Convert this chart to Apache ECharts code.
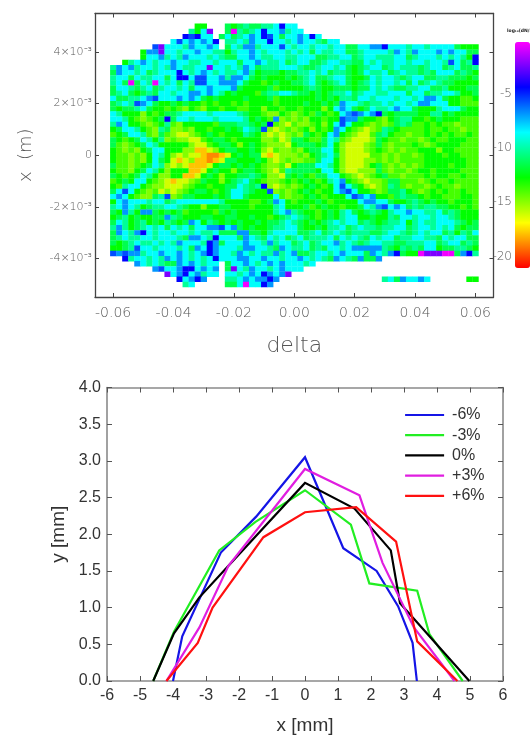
<!DOCTYPE html>
<html><head><meta charset="utf-8">
<script src="https://cdn.jsdelivr.net/npm/echarts@6/dist/echarts.min.js"></script>
<style>html,body{margin:0;padding:0;background:#fff}#c{width:530px;height:736px}</style>
</head><body><div id="c"></div>
<script>
// ---- top panel: log-level map ----
const levelValues = {m:-0.6,p:-2.5,B:-4.6,b:-5.8,a:-7,c:-8.8,t:-10.4,s:-11.6,g:-12.9,l:-14,h:-15,y:-16.3,o:-18,r:-19};
const deltaStart = -0.06, deltaStep = 0.002, rowTop = 25, rowStep = 0.0002;
const mapRows = [
".......... ....gg...s gstssttcBc c......... .......... .......... .",
".......... ...tgcp..s mtstcBccat cc........ .......... .......... .",
".......... ..BbBcc.sc stcacBbcsc cacBc..... .......... .......... .",
".......... cbcacacB.t tctaccBcct cacctscc.. .......... .......... .",
".......bpc cctaccac.s ctaatcccbc tcctcctccs sccaaBccct cctccccsgg g",
".....gaapc ctccaccttg tccactccct ctcscttccs stcccctact acccacaccs s",
".....gccat ctaccctcts sccacttcct tcccssttcc stcctttccs tccctctctg B",
"..gtcactcc accttcctcc csccacttcs tccsstcctt ssctcttcct cctcctbcst B",
"tacatcctct acttccpcct ctacstttcc ctsstcctcs gstccstctt tstccstcss t",
"sacctcstcc cBctcactct tcatgsssgs sttctcstts gscttcstct tstscccsts g",
"tccscttccs cBBcbbccat aacsgsgggs gstcsstccs ggsctcctst ccssttsssg s",
"tcsmsctmct csctbbccaa acsgglgsgg sstcsgstcs gstctcctcs cstctssggg g",
"scctstcstc ctcsccaccc asggggslgg ggstsggsss gssctctsst tccsstgggs s",
"stcsgstscc tccaacactg sggglsttcc tssgsgsttc stccttcccs ccsttcctgg s",
"cssttcabcc cacacsgsgg ggsgggslgg ggggsgsgtt scctccctcc tcaacsggll g",
"stctbacsgg sgsgglglgg lglgggglgg ggsggsgsac ctsttctcct caacccggll l",
"sgsstcsggl glhglhgglg gllgghgglg glggghgcac sgscttcacc sgggtcccsg g",
"ctggghglgs stcccctccc ctsgglhhgl hlglsglgca bacaBsgsss sggttgsggg g",
"cctglhlgsB scctccctcc cctgsglahl hlhgglggba asgglhgstt gglgsgggll l",
"tacgglhlgt lhggggglss sttsgsBlhy lhhlghgcbc gglhlhlsts llglgllhll l",
"gscctglhts hhlhgglggs gsctsbhyhl hlghglgacg lhyhltsgll llgllgllhl l",
"lgscctlhsl hyyhlgsglg ggtsghyhyh lhsglgcagl hyylstgllh llglglgllg l",
"sglgsctgth lhhyylgssg lgggghhlyh ssgllsctlh yyyhsgllhl lhlgllgggl l",
"slhlgsctgg ggghyylgss ghgsglhhhy gsssgscghy yyhlslhlll glhlggggll l",
"glhlhgsccg gghhooyhgs sggsghylhh lhgssccghy yyhlglhlhl lggghgglll l",
"gllhlhgctg hyhyyorroy gsgssyoyhh hlhgstcshy yyyllhlhll hlggglggll l",
"gllhlhgcsg yoyhooroys sgggsghyhl hhllsccghy yyhhlhlhll llgggggggl l",
"sllhlgscth yhyoooygss gsgsglhhly gssscctghy yyhgslhlhl hlgggglggl l",
"gllhgsctgh gggooygsgg hgssglhylt ssssgccghy yhhhslhllh lgglggggll l",
"sglgsctghh ggooygsghg gsstsghhys gsglssccgl hyhlgsllhl llglggllgl l",
"lgsgccglhy oyyhlsgghg stcsglhhlg lgsglgtcag lhyhhlssll lhlgllglll l",
"gltccglhhy yyhlgglggs sctstBhyhl hlgsglgcbc sghyhltslh llhlgllhll l",
"scbcglhlyh yhlgssglgs cctsggbhlh lgsglggcab cgglhlsstg lhlglgllgl l",
"cacglhhstb hlssgggsgs ccsggggclh llgsglgggc bacagglsts sglgglllgg l",
"gcaccctccs tccccccctg gggllgsacg lgggsglggg gcaaccsggs tsgsgglggg l",
"tcactgsttc ctsgghggss ggglgggtcg ggslgsgglg gsctabcacs tsttssgglg l",
"sgatgaasgs gslgggglsg sggggggtca tsgglgsgtc sgstsgtcca ccttcstsgg g",
"gstgsggssa tsgggssggs sggsgglgst ctsglgsgtc cggsggtscc tcctcctsgg g",
"sctgstgsgt sgsacgtsgs gsggsgsstc tsgsgstctc cstsgsttcg tcttccctsg s",
"tatgstctcs ctcsccaabc asgsggsttc csggsgttcs tcttsttccs tcctctcsgs s",
"sactaBctcc tcctcttcss saassgtccc csstcstcts tttsstccts tctccstgts c",
"stcttcctcc ctsaactBcc csactsctcs tcstttcsct ctsctccstt ccttsctccs s",
"sgstcttctc taccctBasc ccacctatcc stcstccatc tstccttsst ttccstccst s",
"ggstbcctcc ctcsacBacc ctaacctsac ttcstscctc aaaaatsgts tsccgsstts g",
"babaatccac cactcaBacc tactcttatc asstcctcac ccsactaBsg gmpppmmsaB t",
"..Btcctcta cactctcBcc caaccacctc cactctsact sassa..... .......... .",
"....actcts sacactcc.s ccactcacac cctc...... .......... .......... .",
".......abc caBBcaca.s pctacctcac cc........ .......... .......... .",
".........p caBcatcc.c ctcacBacap .......... .......... .......... .",
".......... .BcaBa...t tcacaaBa.. .......... .....tcsac cac......g g",
".......... ..tc.....s scmccBa... .......... .......... .......... ."
];
const xTickValues = [-0.06,-0.04,-0.02,0,0.02,0.04,0.06];
const yTickValues = [-0.004,-0.002,0,0.002,0.004];
const yTickLabels = ['-4×10⁻³','-2×10⁻³','0','2×10⁻³','4×10⁻³'];
const barTicks = [-5,-10,-15,-20];
const barTitle = 'log₁₀(dN/N₀)';
const paletteLowToHigh = ['#ff0000','#ffff00','#00ff00','#00ffff','#0000ff','#ff00ff'];

// ---- bottom panel ----
const seriesNames = ['-6%','-3%','0%','+3%','+6%'];
const seriesColors = ['#1515e6','#22ee22','#000000','#e01ee0','#ff1010'];
const curveM6 = [[-4.0,0],[-3.72,0.61],[-2.55,1.75],[-1.48,2.24],[0,3.05],[1.16,1.81],[2.17,1.5],[2.82,1.02],[3.26,0.52],[3.39,0]];
const curveM3 = [[-4.6,0],[-3.97,0.67],[-2.6,1.78],[-1.5,2.17],[0,2.6],[1.39,2.13],[1.95,1.33],[3.4,1.23],[3.77,0.64],[4.78,0]];
const curve0  = [[-4.6,0],[-3.97,0.65],[-3.2,1.14],[-2.34,1.56],[0,2.7],[1.5,2.35],[2.6,1.78],[2.88,1.06],[4.98,0]];
const curveP3 = [[-4.2,0],[-3.2,0.73],[-2.32,1.57],[0,2.89],[1.65,2.53],[2.35,1.61],[3.3,0.73],[4.53,0]];
const curveP6 = [[-4.2,0],[-3.25,0.52],[-2.8,1.0],[-1.26,1.96],[0,2.3],[1.55,2.37],[2.76,1.9],[3.4,0.54],[4.62,0]];
const curves = [curveM6,curveM3,curve0,curveP3,curveP6];

const cells = [];
mapRows.forEach((row,r)=>{
  row.replace(/ /g,'').split('').forEach((ch,c)=>{
    if(levelValues[ch]!==undefined) cells.push([deltaStart+c*deltaStep,(rowTop-r)*rowStep,levelValues[ch]]);
  });
});

const thin = '"DejaVu Sans"';
const gray = '#555';
const lineGray = '#444';
const topAxisLine = {onZero:false,lineStyle:{color:lineGray,width:1.3}};
const topTick = {inside:true,length:4,lineStyle:{color:lineGray,width:1}};
const botAxisLine = {onZero:false,lineStyle:{color:'#8a8a8a',width:1.6}};
const botTick = {inside:true,length:5,lineStyle:{color:'#555',width:1}};
const xR = 0.066, yR = 0.00549;

const option = {
  animation:false,
  backgroundColor:'#fff',
  grid:[
    {left:95,top:13.5,width:398.5,height:283.5},
    {left:107,top:387.5,width:396,height:294},
    {left:515,top:42,width:15,height:226}
  ],
  xAxis:[
    {gridIndex:0,type:'value',position:'bottom',min:-xR,max:xR,splitLine:{show:false},axisLine:topAxisLine,
     axisTick:{...topTick,customValues:xTickValues},
     axisLabel:{customValues:xTickValues,margin:9,color:gray,fontFamily:thin,fontWeight:200,fontSize:14,showMinLabel:true,showMaxLabel:true,
       formatter:v=>v.toFixed(2)},
     name:'delta',nameLocation:'middle',nameGap:38,nameTextStyle:{color:gray,fontFamily:thin,fontWeight:200,fontSize:22,letterSpacing:4}},
    {gridIndex:0,type:'value',position:'top',min:-xR,max:xR,splitLine:{show:false},axisLine:topAxisLine,
     axisTick:{...topTick,customValues:xTickValues},axisLabel:{show:false}},
    {gridIndex:1,type:'value',position:'bottom',min:-6,max:6,interval:1,splitLine:{show:false},axisLine:botAxisLine,axisTick:botTick,
     axisLabel:{margin:7,color:'#333',fontFamily:'"Liberation Sans"',fontSize:16,showMinLabel:true,showMaxLabel:true},
     name:'x [mm]',nameLocation:'middle',nameGap:35,nameTextStyle:{color:'#333',fontFamily:'"Liberation Sans"',fontSize:19}},
    {gridIndex:1,type:'value',position:'top',min:-6,max:6,interval:1,splitLine:{show:false},axisLine:botAxisLine,axisTick:botTick,axisLabel:{show:false}},
    {gridIndex:2,type:'value',min:0,max:1,show:false}
  ],
  yAxis:[
    {gridIndex:0,type:'value',position:'left',min:-yR,max:yR,splitLine:{show:false},axisLine:topAxisLine,
     axisTick:{...topTick,customValues:yTickValues},
     axisLabel:{customValues:yTickValues,margin:3,padding:[0,0,7,0],color:gray,fontFamily:thin,fontWeight:200,fontSize:11,showMinLabel:true,showMaxLabel:true,
       formatter:v=>{const i=yTickValues.findIndex(t=>Math.abs(t-v)<1e-6);return i<0?'':yTickLabels[i];}},
     name:'x  (m)',nameLocation:'middle',nameGap:60,nameTextStyle:{color:gray,fontFamily:thin,fontWeight:200,fontSize:18,letterSpacing:2}},
    {gridIndex:0,type:'value',position:'right',min:-yR,max:yR,splitLine:{show:false},axisLine:topAxisLine,
     axisTick:{...topTick,customValues:yTickValues},axisLabel:{show:false}},
    {gridIndex:1,type:'value',position:'left',min:0,max:4,interval:0.5,splitLine:{show:false},axisLine:botAxisLine,axisTick:botTick,
     axisLabel:{margin:6,color:'#333',fontFamily:'"Liberation Sans"',fontSize:16,showMinLabel:true,showMaxLabel:true,formatter:v=>v.toFixed(1)},
     name:'y [mm]',nameLocation:'middle',nameGap:33,nameTextStyle:{color:'#333',fontFamily:'"Liberation Sans"',fontSize:19}},
    {gridIndex:1,type:'value',position:'right',min:0,max:4,interval:0.5,splitLine:{show:false},axisLine:botAxisLine,axisTick:botTick,axisLabel:{show:false}},
    {gridIndex:2,type:'value',position:'left',min:-21.05,max:-0.25,splitLine:{show:false},axisLine:{show:false},axisTick:{show:false},
     axisLabel:{customValues:barTicks,margin:3,color:gray,fontFamily:thin,fontWeight:200,fontSize:12}}
  ],
  visualMap:[{type:'continuous',seriesIndex:0,dimension:2,min:-21.2,max:-0.4,left:515,top:42,itemWidth:15,itemHeight:226,
    calculable:false,realtime:false,text:null,showLabel:false,padding:0,
    inRange:{color:paletteLowToHigh},textStyle:{fontSize:0,color:'rgba(0,0,0,0)'},formatter:()=>''}],
  legend:{data:seriesNames,orient:'vertical',left:404,top:406,padding:0,itemWidth:39,itemHeight:14,itemGap:2.2,
    textStyle:{color:'#333',fontFamily:'"Liberation Sans"',fontSize:16,padding:[0,0,0,3],lineHeight:18},selectedMode:false,
    itemStyle:{opacity:0},lineStyle:{width:2.2}},
  graphic:[{type:'text',left:507,top:28,style:{text:barTitle,fontSize:4.5,fontWeight:'bold',fill:'#222',fontFamily:thin}}],
  series:[
    {type:'custom',name:'map',xAxisIndex:0,yAxisIndex:0,data:cells,encode:{x:0,y:1},clip:true,
     renderItem:(params,api)=>{
       const p=api.coord([api.value(0),api.value(1)]);
       const s=api.size([deltaStep,rowStep]);
       return {type:'rect',shape:{x:p[0]-s[0]/2,y:p[1]-s[1]/2,width:s[0]+0.3,height:s[1]+0.3},style:{fill:api.visual('color')}};
     }},
    ...curves.map((d,i)=>({type:'line',name:seriesNames[i],xAxisIndex:2,yAxisIndex:2,data:d,symbol:'none',clip:true,
       lineStyle:{color:seriesColors[i],width:2.2,join:'miter'},itemStyle:{color:seriesColors[i]}}))
  ]
};
const chart = echarts.init(document.getElementById('c'),null,{renderer:'canvas',width:530,height:736});
chart.setOption(option);
</script></body></html>
